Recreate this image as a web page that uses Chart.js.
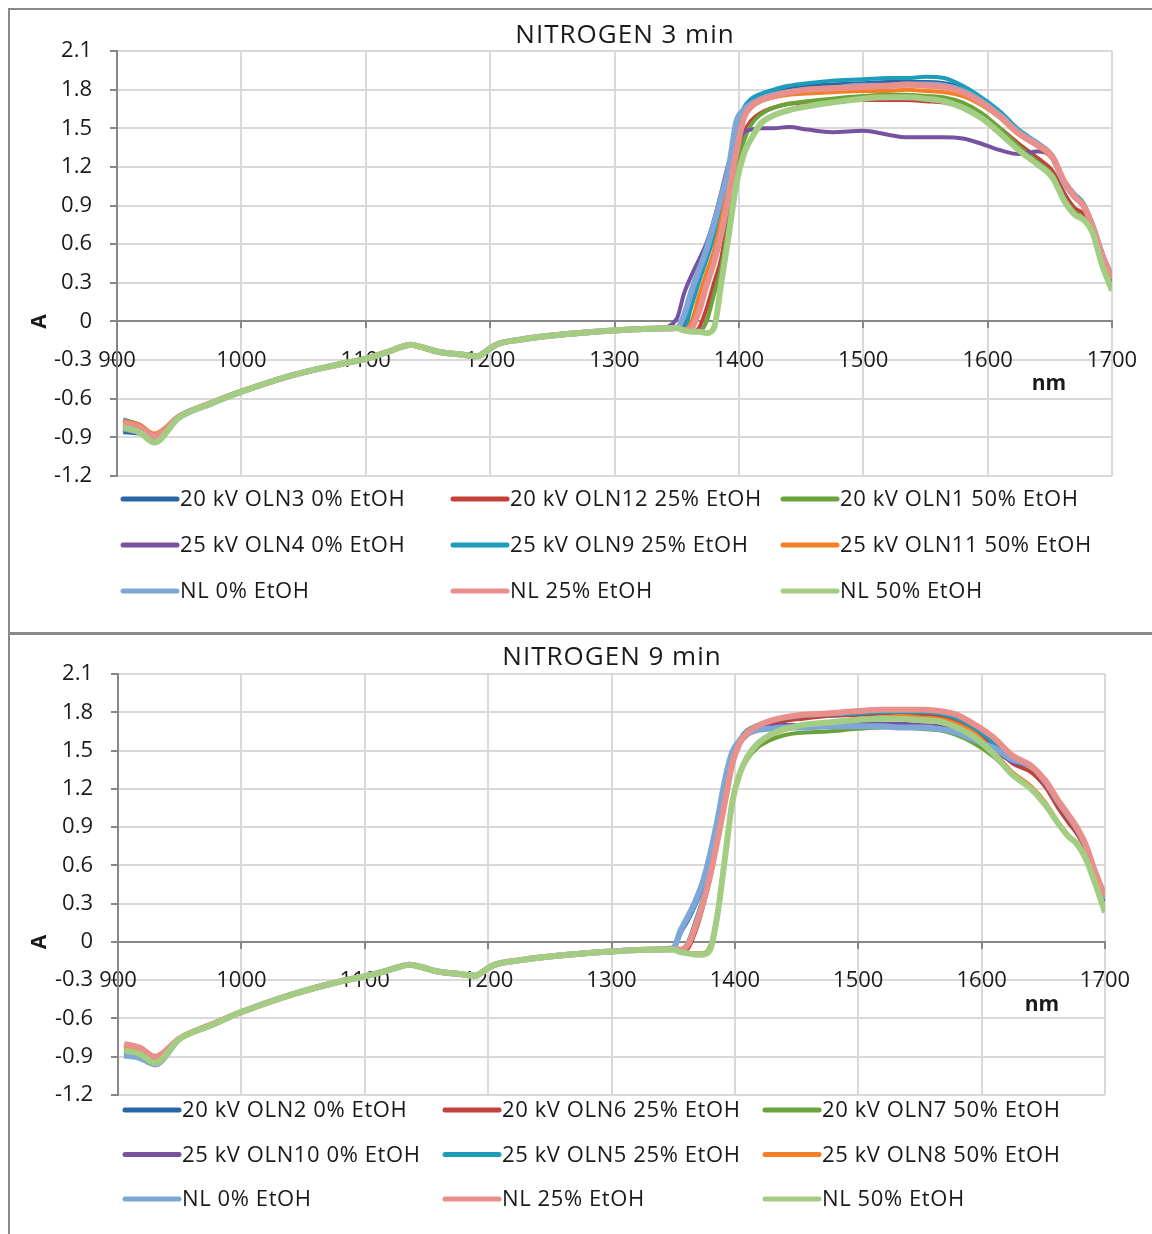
<!DOCTYPE html>
<html>
<head>
<meta charset="utf-8">
<title>NITROGEN spectra</title>
<script src="https://cdn.jsdelivr.net/npm/chart.js@4.4.1/dist/chart.umd.min.js"></script>
<style>
  html, body { margin: 0; padding: 0; background: #fff; }
  body { width: 1152px; height: 1234px; position: relative; overflow: hidden; }
  canvas { position: absolute; left: 0; }
  #chart3 { top: 0; }
  #chart9 { top: 632px; }
  .frame { position: absolute; box-sizing: border-box; border: 0 solid #8a8a8a; z-index: 2; }
  #frame3 { left: 8px; top: 8px; width: 1160px; height: 627px; border-width: 2px 0 3px 2px; }
  #frame9 { left: 8px; top: 634px; width: 1160px; height: 620px; border-width: 0 0 0 2px; }
</style>
</head>
<body>
<div class="frame" id="frame3"></div>
<div class="frame" id="frame9"></div>
<canvas id="chart3" width="1152" height="632"></canvas>
<canvas id="chart9" width="1152" height="602"></canvas>
<script>
// wavelength grid (nm) shared by every spectrum
const wavelengths = [905, 918, 930, 950, 975, 1000, 1040, 1080, 1100, 1118, 1128, 1136, 1145, 1158, 1175, 1190, 1197, 1205, 1225, 1260, 1300, 1335,
  1350, 1356, 1362, 1368, 1374, 1380, 1386, 1392, 1398, 1404, 1410, 1418, 1428, 1440, 1455, 1475, 1500, 1520, 1535, 1550, 1565, 1580, 1595,
  1610, 1625, 1640, 1652, 1662, 1670, 1677, 1684, 1692, 1700];

const xTicks = [900, 1000, 1100, 1200, 1300, 1400, 1500, 1600, 1700];
const yTicks = [-1.2, -0.9, -0.6, -0.3, 0, 0.3, 0.6, 0.9, 1.2, 1.5, 1.8, 2.1];

const labels3 = ['20 kV OLN3 0% EtOH', '20 kV OLN12 25% EtOH', '20 kV OLN1 50% EtOH',
  '25 kV OLN4 0% EtOH', '25 kV OLN9 25% EtOH', '25 kV OLN11 50% EtOH',
  'NL 0% EtOH', 'NL 25% EtOH', 'NL 50% EtOH'];
const labels9 = ['20 kV OLN2 0% EtOH', '20 kV OLN6 25% EtOH', '20 kV OLN7 50% EtOH',
  '25 kV OLN10 0% EtOH', '25 kV OLN5 25% EtOH', '25 kV OLN8 50% EtOH',
  'NL 0% EtOH', 'NL 25% EtOH', 'NL 50% EtOH'];

// NITROGEN 3 min
const t3_oln3 = [-0.86, -0.87, -0.93, -0.745, -0.64, -0.55, -0.425, -0.335, -0.29, -0.235, -0.20, -0.18, -0.20, -0.235, -0.255, -0.27, -0.23, -0.18, -0.14, -0.10, -0.07, -0.055,
  -0.05, -0.02, 0.18, 0.36, 0.52, 0.71, 0.94, 1.17, 1.54, 1.65, 1.71, 1.75, 1.78, 1.81, 1.83, 1.84, 1.85, 1.86, 1.86, 1.86, 1.85, 1.81, 1.72,
  1.61, 1.47, 1.38, 1.28, 1.08, 0.98, 0.91, 0.76, 0.53, 0.32];
const t3_oln12 = [-0.80, -0.83, -0.90, -0.74, -0.635, -0.545, -0.42, -0.33, -0.29, -0.235, -0.20, -0.18, -0.20, -0.235, -0.255, -0.27, -0.23, -0.18, -0.14, -0.10, -0.07, -0.055,
  -0.05, -0.07, -0.08, -0.05, 0.10, 0.30, 0.50, 0.87, 1.22, 1.46, 1.56, 1.62, 1.66, 1.69, 1.70, 1.71, 1.72, 1.72, 1.72, 1.71, 1.70, 1.66, 1.59,
  1.50, 1.38, 1.27, 1.17, 0.99, 0.88, 0.84, 0.73, 0.49, 0.30];
const t3_oln1 = [-0.82, -0.85, -0.92, -0.745, -0.64, -0.545, -0.42, -0.33, -0.29, -0.235, -0.20, -0.18, -0.20, -0.235, -0.255, -0.27, -0.23, -0.18, -0.14, -0.10, -0.07, -0.055,
  -0.05, -0.07, -0.08, -0.08, 0.00, 0.21, 0.43, 0.78, 1.20, 1.40, 1.53, 1.61, 1.66, 1.69, 1.71, 1.73, 1.75, 1.76, 1.76, 1.75, 1.74, 1.70, 1.62,
  1.50, 1.36, 1.24, 1.14, 0.95, 0.85, 0.80, 0.71, 0.46, 0.26];
const t3_oln4 = [-0.84, -0.86, -0.92, -0.745, -0.64, -0.545, -0.42, -0.33, -0.29, -0.235, -0.20, -0.18, -0.20, -0.235, -0.255, -0.27, -0.23, -0.18, -0.14, -0.10, -0.07, -0.055,
  0.02, 0.22, 0.36, 0.48, 0.61, 0.79, 1.01, 1.24, 1.40, 1.47, 1.49, 1.50, 1.50, 1.51, 1.49, 1.47, 1.48, 1.45, 1.43, 1.43, 1.43, 1.42, 1.38,
  1.33, 1.30, 1.32, 1.27, 1.07, 0.96, 0.90, 0.75, 0.53, 0.34];
const t3_oln9 = [-0.76, -0.80, -0.88, -0.73, -0.63, -0.54, -0.42, -0.33, -0.285, -0.23, -0.20, -0.175, -0.195, -0.23, -0.25, -0.265, -0.225, -0.175, -0.14, -0.10, -0.07, -0.055,
  -0.05, -0.05, 0.12, 0.31, 0.48, 0.66, 0.89, 1.13, 1.50, 1.66, 1.73, 1.77, 1.80, 1.83, 1.85, 1.87, 1.88, 1.89, 1.89, 1.90, 1.89, 1.83, 1.74,
  1.63, 1.49, 1.39, 1.29, 1.09, 0.99, 0.92, 0.76, 0.51, 0.27];
const t3_oln11 = [-0.77, -0.80, -0.87, -0.73, -0.63, -0.54, -0.42, -0.33, -0.285, -0.23, -0.20, -0.175, -0.195, -0.23, -0.25, -0.265, -0.225, -0.175, -0.14, -0.10, -0.07, -0.055,
  -0.05, -0.06, 0.00, 0.20, 0.38, 0.55, 0.80, 1.07, 1.38, 1.58, 1.66, 1.71, 1.74, 1.76, 1.77, 1.78, 1.79, 1.79, 1.80, 1.79, 1.78, 1.75, 1.68,
  1.58, 1.45, 1.36, 1.26, 1.06, 0.96, 0.90, 0.76, 0.54, 0.35];
const t3_nl0 = [-0.83, -0.86, -0.92, -0.745, -0.64, -0.545, -0.42, -0.33, -0.29, -0.235, -0.20, -0.18, -0.20, -0.235, -0.255, -0.27, -0.23, -0.18, -0.14, -0.10, -0.07, -0.055,
  -0.05, 0.05, 0.24, 0.40, 0.56, 0.76, 0.97, 1.20, 1.55, 1.64, 1.69, 1.73, 1.76, 1.78, 1.80, 1.81, 1.83, 1.83, 1.84, 1.84, 1.83, 1.79, 1.71,
  1.60, 1.47, 1.38, 1.28, 1.07, 0.97, 0.90, 0.75, 0.52, 0.34];
const t3_nl25 = [-0.79, -0.82, -0.89, -0.74, -0.635, -0.545, -0.42, -0.33, -0.29, -0.235, -0.20, -0.18, -0.20, -0.235, -0.255, -0.27, -0.23, -0.18, -0.14, -0.10, -0.07, -0.055,
  -0.05, -0.07, -0.05, 0.08, 0.28, 0.46, 0.69, 0.99, 1.32, 1.58, 1.67, 1.72, 1.75, 1.78, 1.80, 1.81, 1.82, 1.83, 1.84, 1.83, 1.82, 1.78, 1.70,
  1.59, 1.46, 1.37, 1.28, 1.08, 0.97, 0.90, 0.75, 0.52, 0.33];
const t3_nl50 = [-0.82, -0.86, -0.94, -0.745, -0.64, -0.545, -0.42, -0.33, -0.29, -0.235, -0.20, -0.18, -0.20, -0.235, -0.255, -0.27, -0.23, -0.18, -0.14, -0.10, -0.07, -0.055,
  -0.05, -0.07, -0.08, -0.08, -0.09, -0.05, 0.31, 0.68, 1.07, 1.30, 1.42, 1.54, 1.60, 1.64, 1.67, 1.70, 1.73, 1.74, 1.74, 1.73, 1.71, 1.66, 1.58,
  1.46, 1.33, 1.22, 1.12, 0.93, 0.83, 0.79, 0.70, 0.44, 0.24];

// NITROGEN 9 min
const t9_oln2 = [-0.88, -0.90, -0.95, -0.76, -0.655, -0.55, -0.415, -0.31, -0.27, -0.225, -0.195, -0.18, -0.195, -0.23, -0.25, -0.265, -0.225, -0.18, -0.145, -0.105, -0.075, -0.06,
  -0.06, 0.07, 0.17, 0.29, 0.44, 0.65, 0.93, 1.24, 1.47, 1.57, 1.63, 1.66, 1.68, 1.69, 1.69, 1.70, 1.70, 1.70, 1.69, 1.69, 1.68, 1.65, 1.58,
  1.51, 1.42, 1.37, 1.24, 1.09, 0.98, 0.88, 0.75, 0.53, 0.34];
const t9_oln6 = [-0.82, -0.85, -0.92, -0.76, -0.655, -0.55, -0.415, -0.31, -0.27, -0.225, -0.195, -0.18, -0.195, -0.23, -0.25, -0.265, -0.225, -0.18, -0.145, -0.105, -0.075, -0.06,
  -0.06, -0.07, -0.05, 0.08, 0.27, 0.50, 0.80, 1.12, 1.40, 1.55, 1.62, 1.66, 1.70, 1.73, 1.75, 1.77, 1.78, 1.79, 1.79, 1.78, 1.77, 1.73, 1.65,
  1.54, 1.40, 1.33, 1.21, 1.05, 0.94, 0.85, 0.73, 0.51, 0.32];
const t9_oln7 = [-0.85, -0.88, -0.94, -0.76, -0.655, -0.55, -0.415, -0.31, -0.27, -0.225, -0.195, -0.18, -0.195, -0.23, -0.25, -0.265, -0.225, -0.18, -0.145, -0.105, -0.075, -0.06,
  -0.06, -0.08, -0.09, -0.09, -0.09, -0.03, 0.24, 0.68, 1.10, 1.31, 1.43, 1.52, 1.58, 1.62, 1.64, 1.65, 1.67, 1.68, 1.68, 1.67, 1.66, 1.62, 1.55,
  1.45, 1.31, 1.20, 1.08, 0.93, 0.83, 0.77, 0.66, 0.47, 0.24];
const t9_oln10 = [-0.87, -0.89, -0.95, -0.76, -0.655, -0.55, -0.415, -0.31, -0.27, -0.225, -0.195, -0.18, -0.195, -0.23, -0.25, -0.265, -0.225, -0.18, -0.145, -0.105, -0.075, -0.06,
  -0.06, 0.08, 0.19, 0.31, 0.45, 0.67, 0.94, 1.25, 1.48, 1.58, 1.63, 1.67, 1.69, 1.70, 1.70, 1.71, 1.72, 1.71, 1.71, 1.70, 1.69, 1.65, 1.58,
  1.50, 1.41, 1.37, 1.24, 1.10, 0.99, 0.89, 0.76, 0.53, 0.33];
const t9_oln5 = [-0.86, -0.88, -0.94, -0.76, -0.655, -0.55, -0.415, -0.31, -0.27, -0.225, -0.195, -0.18, -0.195, -0.23, -0.25, -0.265, -0.225, -0.18, -0.145, -0.105, -0.075, -0.06,
  -0.06, -0.06, 0.00, 0.16, 0.34, 0.55, 0.82, 1.13, 1.44, 1.59, 1.66, 1.70, 1.73, 1.75, 1.77, 1.78, 1.79, 1.80, 1.80, 1.80, 1.79, 1.75, 1.67,
  1.56, 1.43, 1.37, 1.25, 1.09, 0.98, 0.88, 0.75, 0.53, 0.33];
const t9_oln8 = [-0.83, -0.86, -0.92, -0.76, -0.655, -0.55, -0.415, -0.31, -0.27, -0.225, -0.195, -0.18, -0.195, -0.23, -0.25, -0.265, -0.225, -0.18, -0.145, -0.105, -0.075, -0.06,
  -0.06, -0.08, -0.09, -0.09, -0.09, -0.05, 0.20, 0.64, 1.08, 1.31, 1.44, 1.54, 1.61, 1.66, 1.69, 1.72, 1.75, 1.76, 1.77, 1.76, 1.75, 1.71, 1.63,
  1.49, 1.33, 1.22, 1.09, 0.94, 0.84, 0.78, 0.67, 0.47, 0.25];
const t9_nl0 = [-0.89, -0.91, -0.96, -0.76, -0.655, -0.55, -0.415, -0.31, -0.27, -0.225, -0.195, -0.18, -0.195, -0.23, -0.25, -0.265, -0.225, -0.18, -0.145, -0.105, -0.075, -0.06,
  -0.05, 0.09, 0.20, 0.32, 0.47, 0.69, 0.96, 1.27, 1.49, 1.58, 1.63, 1.66, 1.67, 1.68, 1.68, 1.69, 1.69, 1.69, 1.68, 1.68, 1.67, 1.64, 1.58,
  1.52, 1.43, 1.38, 1.25, 1.10, 0.99, 0.89, 0.76, 0.54, 0.34];
const t9_nl25 = [-0.80, -0.83, -0.90, -0.755, -0.65, -0.55, -0.415, -0.31, -0.27, -0.225, -0.195, -0.18, -0.195, -0.23, -0.25, -0.265, -0.225, -0.18, -0.145, -0.105, -0.075, -0.06,
  -0.06, -0.06, -0.02, 0.12, 0.30, 0.52, 0.80, 1.10, 1.40, 1.56, 1.64, 1.69, 1.73, 1.76, 1.78, 1.79, 1.81, 1.82, 1.82, 1.82, 1.81, 1.78, 1.70,
  1.60, 1.46, 1.38, 1.26, 1.11, 1.00, 0.90, 0.77, 0.55, 0.36];
const t9_nl50 = [-0.85, -0.88, -0.95, -0.76, -0.655, -0.55, -0.415, -0.31, -0.27, -0.225, -0.195, -0.18, -0.195, -0.23, -0.25, -0.265, -0.225, -0.18, -0.145, -0.105, -0.075, -0.06,
  -0.06, -0.08, -0.09, -0.10, -0.10, -0.06, 0.22, 0.66, 1.10, 1.32, 1.45, 1.55, 1.62, 1.67, 1.70, 1.72, 1.74, 1.75, 1.75, 1.74, 1.73, 1.68, 1.60,
  1.47, 1.31, 1.20, 1.07, 0.93, 0.83, 0.77, 0.66, 0.46, 0.23];

// Excel-like series styling: dark lines thinner, tinted "NL" lines wider
const seriesColors = ['#2a66a6', '#c2413b', '#6aa33a', '#7652a0', '#1d9dba', '#f47f26', '#7ea7d8', '#e98f8c', '#a4cd84'];
const seriesWidths = [4, 4, 4, 4, 4, 4, 6, 6, 6];

const GRID = '#d9d9d9';
const AXIS = '#878787';
const INK = '#1a1a1a';

Chart.defaults.font.family = "'Open Sans', sans-serif";
Chart.defaults.color = INK;

// chart title, axis names and the 3-column legend under the plot
const panelText = {
  id: 'panelText',
  afterDraw(chart, args, opts) {
    const { ctx, chartArea, scales } = chart;
    const zero = scales.y.getPixelForValue(0);
    ctx.save();
    ctx.fillStyle = INK;
    ctx.textAlign = 'center';
    ctx.textBaseline = 'middle';
    ctx.letterSpacing = '1px';
    ctx.font = "26px 'Open Sans'";
    ctx.fillText(opts.title, opts.titleX, opts.titleY);

    ctx.letterSpacing = '0px';
    ctx.font = "bold 21px 'Open Sans'";
    ctx.fillText('nm', chartArea.right - 63, zero + 63);
    ctx.save();
    ctx.translate(40, zero);
    ctx.rotate(-Math.PI / 2);
    ctx.fillText('A', 0, 0);
    ctx.restore();

    ctx.font = "22px 'Open Sans'";
    ctx.letterSpacing = '0.6px';
    ctx.textAlign = 'left';
    ctx.lineCap = 'round';
    chart.data.datasets.forEach((ds, i) => {
      const x = opts.legendX + (i % 3) * opts.colWidth;
      const y = chartArea.bottom + opts.legendTop + Math.floor(i / 3) * opts.rowGap;
      ctx.strokeStyle = ds.borderColor;
      ctx.lineWidth = 5;
      ctx.beginPath();
      ctx.moveTo(x, y);
      ctx.lineTo(x + 54, y);
      ctx.stroke();
      ctx.fillText(ds.label, x + 57, y + 1);
    });
    ctx.restore();
  }
};

function buildChart(canvasId, labels, series, panel) {
  const datasets = series.map((vals, i) => ({
    label: labels[i],
    data: wavelengths.map((nm, k) => ({ x: nm, y: vals[k] })),
    borderColor: seriesColors[i],
    backgroundColor: seriesColors[i],
    borderWidth: seriesWidths[i],
    borderJoinStyle: 'round',
    pointRadius: 0,
    cubicInterpolationMode: 'monotone',
    order: series.length - i   // later series drawn on top
  }));

  return new Chart(document.getElementById(canvasId), {
    type: 'line',
    data: { datasets },
    options: {
      responsive: false,
      animation: false,
      layout: { padding: panel.padding },
      plugins: {
        legend: { display: false },
        tooltip: { enabled: false },
        panelText: panel
      },
      scales: {
        x: {
          type: 'linear',
          min: 900,
          max: 1700,
          position: { y: 0 },
          afterBuildTicks: axis => { axis.ticks = xTicks.map(v => ({ value: v })); },
          // end labels may hang past the plot edges
          afterFit: scale => { scale.paddingLeft = 0; scale.paddingRight = 0; },
          ticks: { callback: v => String(v), padding: 20, maxRotation: 0, autoSkip: false, font: { size: 22 }, color: INK },
          grid: { color: c => (c.tick && c.tick.value === 900 ? AXIS : GRID), lineWidth: 2, tickLength: 6, tickColor: AXIS },
          border: { color: AXIS, width: 2 }
        },
        y: {
          min: -1.2,
          max: 2.1,
          afterBuildTicks: axis => { axis.ticks = yTicks.map(v => ({ value: v })); },
          afterFit: scale => { scale.width = panel.axisWidth; },
          ticks: { callback: v => String(v), padding: 18, font: { size: 22 }, color: INK },
          grid: { color: c => (c.tick && c.tick.value === 0 ? AXIS : GRID), lineWidth: 2, tickLength: 7, tickColor: AXIS },
          border: { color: AXIS, width: 2 }
        }
      }
    },
    plugins: [panelText]
  });
}

buildChart('chart3', labels3,
  [t3_oln3, t3_oln12, t3_oln1, t3_oln4, t3_oln9, t3_oln11, t3_nl0, t3_nl25, t3_nl50],
  { title: 'NITROGEN 3 min', titleX: 625, titleY: 36,
    padding: { top: 51, left: 10, right: 40, bottom: 156 }, axisWidth: 107,
    legendX: 123, colWidth: 330, legendTop: 23, rowGap: 46 });

buildChart('chart9', labels9,
  [t9_oln2, t9_oln6, t9_oln7, t9_oln10, t9_oln5, t9_oln8, t9_nl0, t9_nl25, t9_nl50],
  { title: 'NITROGEN 9 min', titleX: 612, titleY: 26,
    padding: { top: 42, left: 10, right: 47, bottom: 139 }, axisWidth: 108,
    legendX: 125, colWidth: 320, legendTop: 15, rowGap: 44.5 });
</script>
</body>
</html>
